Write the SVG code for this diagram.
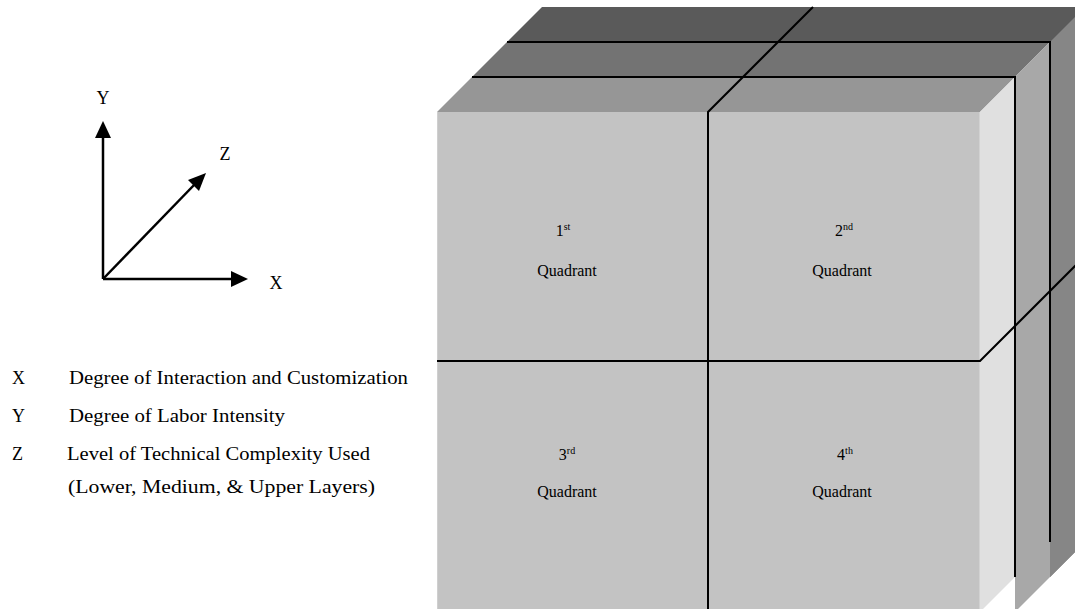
<svg xmlns="http://www.w3.org/2000/svg" width="1075" height="609" viewBox="0 0 1075 609">
<style>
text{font-family:'Liberation Serif','Times New Roman',serif;fill:#000}
.q{font-size:16px;text-anchor:middle}
.sup{font-size:10px}
.lg{font-size:18px}
.ax{font-size:18px;text-anchor:middle}
.ln{stroke:#000;stroke-width:2;fill:none}
.axl{stroke:#000;stroke-width:2.5;fill:none}
</style>
<rect width="1075" height="609" fill="#fff"/>

<g id="axes" font-family="Liberation Serif, serif">
<line class="axl" x1="103" y1="279" x2="103" y2="136"/>
<polygon points="103,121 95,138 111,138" fill="#000"/>
<line class="axl" x1="103" y1="279" x2="233" y2="279"/>
<polygon points="248,279 231,271 231,287" fill="#000"/>
<line class="axl" x1="103" y1="279" x2="195" y2="184"/>
<polygon points="206,173 188,180 199,191" fill="#000"/>
<text class="ax" x="103" y="104">Y</text>
<text class="ax" x="225" y="160">Z</text>
<text class="ax" x="276" y="289">X</text>
</g>

<g id="legend">
<text class="lg" x="12" y="384">X</text>
<text class="lg" x="69" y="384" textLength="339" lengthAdjust="spacingAndGlyphs">Degree of Interaction and Customization</text>
<text class="lg" x="12" y="422">Y</text>
<text class="lg" x="69" y="422" textLength="216" lengthAdjust="spacingAndGlyphs">Degree of Labor Intensity</text>
<text class="lg" x="12" y="460">Z</text>
<text class="lg" x="67" y="460" textLength="303" lengthAdjust="spacingAndGlyphs">Level of Technical Complexity Used</text>
<text class="lg" x="68" y="493" textLength="307" lengthAdjust="spacingAndGlyphs">(Lower, Medium, &amp; Upper Layers)</text>
</g>

<g id="cube">
<polygon points="542,7 1085,7 1085,542 1050,577 1050,42 507,42" fill="#5a5a5a"/>
<polygon points="1050,42 1085,7 1085,542 1050,577" fill="#868686"/>
<polygon points="507,42 1050,42 1015,77 472,77" fill="#737373"/>
<polygon points="1015,77 1050,42 1050,577 1015,612" fill="#a8a8a8"/>
<polygon points="472,77 1015,77 980,112 437,112" fill="#969696"/>
<polygon points="980,112 1015,77 1015,577 980,612" fill="#e0e0e0"/>
<rect x="437" y="112" width="543" height="500" fill="#c3c3c3"/>
<line x1="437.5" y1="112" x2="437.5" y2="612" stroke="#cfcfcf" stroke-width="1"/>
<line x1="979.5" y1="112" x2="979.5" y2="612" stroke="#d2d2d2" stroke-width="1"/>
</g>

<g id="connectors">
<polyline class="ln" points="472,77 1015,77 1015,577"/>
<polyline class="ln" points="507,42 1050,42 1050,542"/>
<polyline class="ln" points="708,609 708,112 813,7"/>
<polyline class="ln" points="437,361 980,361 1085,256"/>
</g>

<g id="q1">
<text class="q" x="563" y="236">1<tspan class="sup" dy="-6">st</tspan></text>
<text class="q" x="567" y="276">Quadrant</text>
</g>
<g id="q2">
<text class="q" x="844" y="236">2<tspan class="sup" dy="-6">nd</tspan></text>
<text class="q" x="842" y="276">Quadrant</text>
</g>
<g id="q3">
<text class="q" x="567" y="460">3<tspan class="sup" dy="-6">rd</tspan></text>
<text class="q" x="567" y="497">Quadrant</text>
</g>
<g id="q4">
<text class="q" x="845" y="460">4<tspan class="sup" dy="-6">th</tspan></text>
<text class="q" x="842" y="497">Quadrant</text>
</g>
</svg>
